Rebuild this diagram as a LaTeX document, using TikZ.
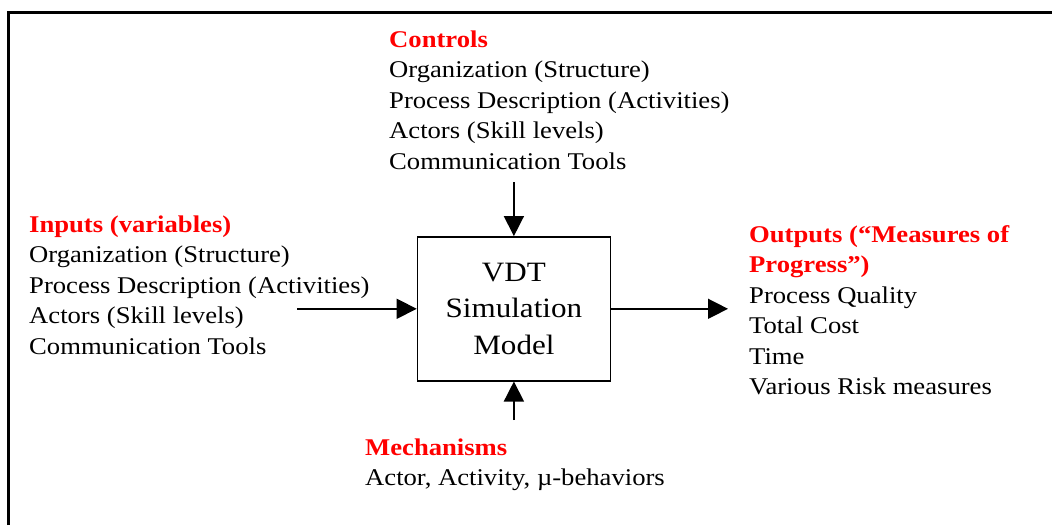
\documentclass[tikz,border=0pt]{standalone}
\usepackage{fontspec}
\setmainfont{Liberation Serif}[FakeStretch=1.11]
\usetikzlibrary{arrows.meta}
\definecolor{headred}{RGB}{255,0,0}
\newcommand{\hd}[1]{\textcolor{headred}{\textbf{#1}}}

\begin{document}
\begin{tikzpicture}[x=1pt,y=-1pt,
        listtext/.style={anchor=north west,inner sep=0pt,align=left,font=\fontsize{24}{30.5}\selectfont},
        modelbox/.style={draw,line width=1.4pt,minimum width=193pt,minimum height=144pt,inner sep=0pt,align=center,font=\fontsize{28}{36.7}\selectfont},
        flow/.style={line width=1.5pt,-{Triangle[length=20pt,width=20pt]}}]
                \useasboundingbox (0,0) rectangle (1052,525);
                \draw[line width=2.7pt] (8.5,525) -- (8.5,12.5) -- (1052,12.5);
                \node[modelbox] (vdt) at (513.9,308.8) {VDT\\Simulation\\Model};
                \node[listtext] (controls) at (389,30.5) {\hd{Controls}\\Organization (Structure)\\Process Description (Activities)\\Actors (Skill levels)\\Communication Tools};
                \node[listtext] (inputs) at (29,215.5) {\hd{Inputs (variables)}\\Organization (Structure)\\Process Description (Activities)\\Actors (Skill levels)\\Communication Tools};
                \node[listtext] (outputs) at (749,225) {\hd{Outputs (“Measures of}\\\hd{Progress”)}\\Process Quality\\Total Cost\\Time\\Various Risk measures};
                \node[listtext] (mechs) at (365,438.5) {\hd{Mechanisms}\\Actor, Activity, µ-behaviors};
                \coordinate (inA) at (297,308.8);
                \coordinate (outA) at (728,308.8);
                \coordinate (ctlA) at (513.9,182);
                \coordinate (mecA) at (513.9,420);
                \draw[flow] (inA) -- (vdt.west);
                \draw[flow] (vdt.east) -- (outA);
                \draw[flow] (ctlA) -- (vdt.north);
                \draw[flow] (mecA) -- (vdt.south);
            \end{tikzpicture}
\end{document}
